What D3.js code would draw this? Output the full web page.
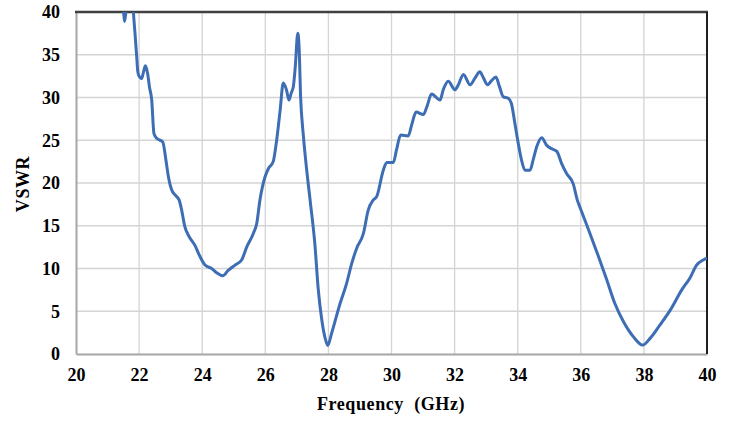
<!DOCTYPE html>
<html>
<head>
<meta charset="utf-8">
<script src="https://cdn.jsdelivr.net/npm/d3@7"></script>
<style>
  html, body { margin: 0; padding: 0; background: #ffffff; }
  svg { display: block; }
</style>
</head>
<body>
<script>
// Frequency sweep (GHz) and measured VSWR
const freqGHz = [
  21.48, 21.51, 21.54, 21.58, 21.62, 21.70, 21.78, 21.82, 21.87, 21.92,
  21.96, 22.00, 22.08, 22.14, 22.20, 22.27, 22.33, 22.40, 22.47, 22.54,
  22.61, 22.75, 22.85, 22.93, 23.03, 23.14, 23.27, 23.35, 23.45, 23.56,
  23.77, 23.93, 24.09, 24.30, 24.46, 24.65, 24.83, 25.04, 25.25, 25.41,
  25.62, 25.73, 25.83, 25.99, 26.10, 26.25, 26.36, 26.47, 26.57, 26.67,
  26.75, 26.82, 26.89, 26.95, 27.03, 27.07, 27.12, 27.20, 27.29, 27.42,
  27.57, 27.68, 27.79, 27.90, 27.98, 28.10, 28.37, 28.58, 28.74, 28.90,
  29.11, 29.26, 29.42, 29.53, 29.74, 29.85, 30.06, 30.16, 30.29, 30.53,
  30.64, 30.78, 31.01, 31.12, 31.27, 31.54, 31.64, 31.80, 32.01, 32.12,
  32.28, 32.49, 32.65, 32.80, 32.90, 33.04, 33.18, 33.31, 33.42, 33.54,
  33.70, 33.80, 33.91, 34.02, 34.12, 34.23, 34.39, 34.49, 34.60, 34.76,
  34.92, 35.08, 35.24, 35.39, 35.55, 35.76, 35.89, 35.97, 36.29, 36.56,
  36.82, 37.08, 37.35, 37.67, 37.96, 38.19, 38.51, 38.83, 39.20, 39.46,
  39.67, 39.88, 40.00
];
const vswr = [
  41.5, 40.0, 38.9, 40.0, 42.0, 45.0, 43.0, 40.0, 37.5, 35.0,
  33.0, 32.5, 32.2, 33.0, 33.7, 32.8, 31.2, 29.7, 25.8, 25.3,
  25.1, 24.8, 22.7, 20.7, 19.2, 18.6, 18.0, 16.8, 14.9, 13.9,
  12.7, 11.4, 10.4, 10.0, 9.5, 9.15, 9.8, 10.4, 11.0, 12.5,
  14.1, 15.3, 18.0, 20.7, 21.7, 22.5, 25.0, 28.5, 31.7, 30.9,
  29.7, 30.5, 31.3, 33.6, 37.5, 36.0, 30.0, 25.8, 22.3, 18.0,
  12.9, 7.5, 4.0, 1.8, 1.0, 2.4, 5.9, 8.3, 10.6, 12.4,
  14.1, 16.8, 18.0, 18.4, 21.5, 22.4, 22.4, 23.9, 25.6, 25.5,
  26.8, 28.3, 28.0, 28.9, 30.4, 29.7, 30.9, 31.9, 30.9, 31.5,
  32.7, 31.5, 32.3, 33.0, 32.4, 31.5, 32.0, 32.4, 31.3, 30.1,
  29.9, 29.3, 27.0, 24.6, 22.7, 21.5, 21.5, 22.7, 24.2, 25.3,
  24.4, 24.0, 23.7, 22.3, 21.1, 19.9, 18.0, 17.2, 14.1, 11.4,
  8.7, 5.9, 3.8, 2.0, 1.05, 1.8, 3.4, 5.1, 7.5, 8.9,
  10.4, 11.0, 11.2
];
const xTicks = [20, 22, 24, 26, 28, 30, 32, 34, 36, 38, 40];
const yTicks = [0, 5, 10, 15, 20, 25, 30, 35, 40];
const xTitle = "Frequency\u00a0 (GHz)";
const yTitle = "VSWR";

const FONT = "'Liberation Serif', 'Times New Roman', Times, serif";
const W = 731, H = 421;
const m = { left: 76, right: 24, top: 12, bottom: 67 };

const svg = d3.select("body").append("svg").attr("width", W).attr("height", H);

const x = d3.scaleLinear().domain([20, 40]).range([m.left, W - m.right]);
const y = d3.scaleLinear().domain([0, 40]).range([H - m.bottom, m.top]);

// grid
svg.append("g").selectAll("line").data(xTicks.slice(1, -1)).join("line")
  .attr("x1", d => x(d)).attr("x2", d => x(d))
  .attr("y1", y(0)).attr("y2", y(40))
  .attr("stroke", "#d4d4d4").attr("stroke-width", 1.3);
svg.append("g").selectAll("line").data(yTicks.slice(1, -1)).join("line")
  .attr("x1", x(20)).attr("x2", x(40))
  .attr("y1", d => y(d)).attr("y2", d => y(d))
  .attr("stroke", "#d4d4d4").attr("stroke-width", 1.3);

// axes
const xAxis = svg.append("g").attr("transform", `translate(0,${y(0)})`)
  .attr("font-family", FONT)
  .call(d3.axisBottom(x).tickValues(xTicks).tickSize(0).tickPadding(14));
xAxis.select(".domain").attr("stroke", "#a6a6a6").attr("stroke-width", 2);
xAxis.selectAll("text").attr("font-size", 18).attr("font-family", FONT)
  .attr("font-weight", "bold").attr("fill", "#000");

const yAxis = svg.append("g").attr("transform", `translate(${x(20)},0)`)
  .call(d3.axisLeft(y).tickValues(yTicks).tickSize(0).tickPadding(16));
yAxis.select(".domain").attr("stroke", "#a6a6a6").attr("stroke-width", 2);
yAxis.selectAll("text").attr("font-size", 18).attr("font-family", FONT)
  .attr("font-weight", "bold").attr("fill", "#000");

// frame: top and right borders
svg.append("line").attr("x1", x(20) - 1).attr("x2", x(40) + 1)
  .attr("y1", y(40)).attr("y2", y(40)).attr("stroke", "#404040").attr("stroke-width", 2.5);
svg.append("line").attr("x1", x(40)).attr("x2", x(40))
  .attr("y1", y(40)).attr("y2", y(0)).attr("stroke", "#202020").attr("stroke-width", 2);

// curve
svg.append("clipPath").attr("id", "plot-clip").append("rect")
  .attr("x", x(20)).attr("y", y(40)).attr("width", x(40) - x(20)).attr("height", y(0) - y(40));

const pts = freqGHz.map((f, i) => [f, vswr[i]]);
const line = d3.line().x(d => x(d[0])).y(d => y(d[1])).curve(d3.curveMonotoneX);
svg.append("path").datum(pts)
  .attr("clip-path", "url(#plot-clip)")
  .attr("d", line)
  .attr("fill", "none")
  .attr("stroke", "#3d6db4")
  .attr("stroke-width", 3)
  .attr("stroke-linejoin", "round");

// titles
svg.append("text").attr("x", 391).attr("y", 410).attr("text-anchor", "middle")
  .attr("font-family", FONT).attr("font-weight", "bold")
  .attr("font-size", 18).attr("letter-spacing", 0.6).text(xTitle);
svg.append("text").attr("transform", `translate(29,184) rotate(-90)`)
  .attr("text-anchor", "middle").attr("font-family", FONT).attr("font-weight", "bold")
  .attr("font-size", 18).attr("letter-spacing", 0.6).text(yTitle);
</script>
</body>
</html>
